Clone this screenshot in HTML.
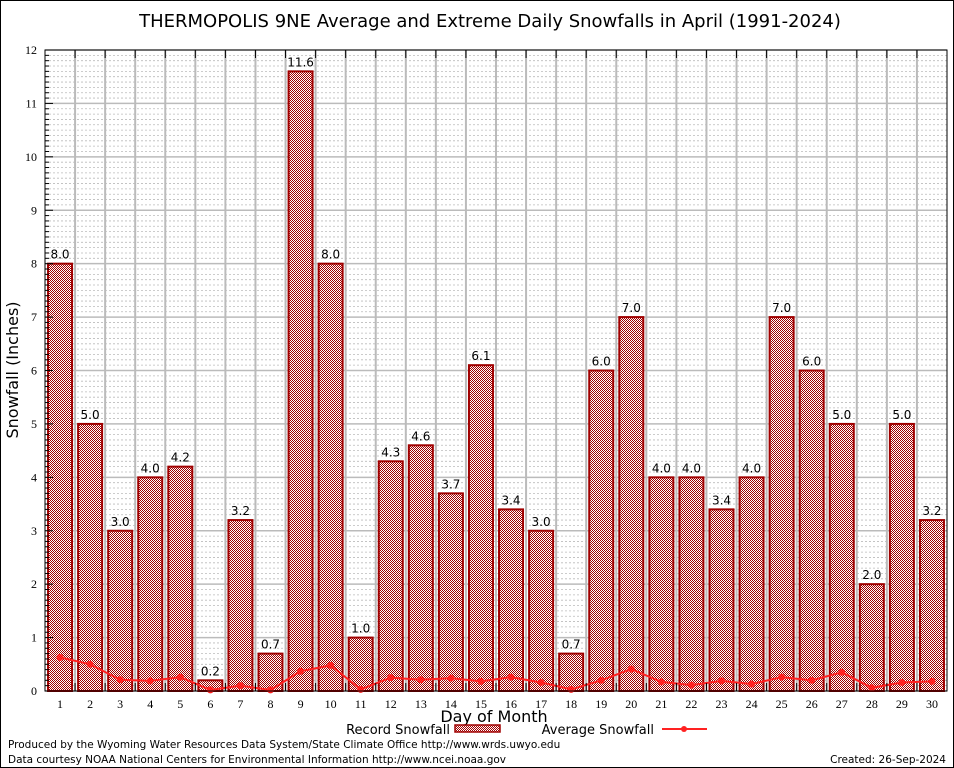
<!DOCTYPE html>
<html><head><meta charset="utf-8"><style>
body{margin:0;background:#fff;}
svg{display:block;font-family:"DejaVu Sans","Liberation Sans",sans-serif;}
.serif{font-family:"Liberation Serif","DejaVu Serif",serif;}
</style></head><body>
<svg id="chart" width="954" height="768" viewBox="0 0 954 768">
<defs>
<pattern id="chk" width="2" height="2" patternUnits="userSpaceOnUse">
<rect width="2" height="2" fill="#fff"/><rect width="1" height="1" fill="#a00000"/><rect x="1" y="1" width="1" height="1" fill="#a00000"/>
</pattern>
</defs>
<rect x="0.5" y="0.5" width="953" height="767" fill="#fff" stroke="#000"/>
<text x="490" y="27" font-size="18" text-anchor="middle">THERMOPOLIS 9NE Average and Extreme Daily Snowfalls in April (1991-2024)</text>
<g id="grid"></g>
<g id="bars"></g>
<g id="avg"></g>
<rect x="45" y="50" width="902" height="641" fill="none" stroke="#000"/>
<g id="axes"></g>
<text transform="translate(18,370) rotate(-90)" font-size="16" text-anchor="middle">Snowfall (Inches)</text>
<text x="494" y="722" font-size="16" text-anchor="middle">Day of Month</text>
<g>
<text x="450" y="734" font-size="13" text-anchor="end">Record Snowfall</text>
<rect x="455" y="725" width="45" height="7" fill="url(#chk)" stroke="#a00000" stroke-width="1.5"/>
</g>
<g>
<text x="654" y="734" font-size="13" text-anchor="end">Average Snowfall</text>
<line x1="662" y1="729" x2="707" y2="729" stroke="#f22" stroke-width="2"/>
<circle cx="684" cy="729" r="3" fill="#f22"/>
</g>
<text x="8" y="748" font-size="10.5">Produced by the Wyoming Water Resources Data System/State Climate Office http://www.wrds.uwyo.edu</text>
<text x="8" y="763" font-size="10.5">Data courtesy NOAA National Centers for Environmental Information http://www.ncei.noaa.gov</text>
<text x="946" y="763" font-size="10.5" text-anchor="end">Created:  26-Sep-2024</text>
</svg>
<script>
const days=[1,2,3,4,5,6,7,8,9,10,11,12,13,14,15,16,17,18,19,20,21,22,23,24,25,26,27,28,29,30];
const records=[8.0,5.0,3.0,4.0,4.2,0.2,3.2,0.7,11.6,8.0,1.0,4.3,4.6,3.7,6.1,3.4,3.0,0.7,6.0,7.0,4.0,4.0,3.4,4.0,7.0,6.0,5.0,2.0,5.0,3.2];
const averages=[0.63,0.5,0.21,0.19,0.26,0.02,0.1,0.02,0.37,0.48,0.03,0.25,0.21,0.24,0.18,0.26,0.16,0.03,0.2,0.41,0.17,0.11,0.19,0.13,0.26,0.2,0.35,0.06,0.16,0.18];
const yTicks=[0,1,2,3,4,5,6,7,8,9,10,11,12];
const NS='http://www.w3.org/2000/svg';
const L=45,R=947,T=50,B=691,yMax=12;
const step=(R-L)/days.length;
const x=d=>L+(d-0.5)*step;
const y=v=>B-v/yMax*(B-T);
function mk(tag,at,parent){const e=document.createElementNS(NS,tag);for(const k in at)e.setAttribute(k,at[k]);parent.appendChild(e);return e;}
const grid=document.getElementById('grid'),bars=document.getElementById('bars'),avg=document.getElementById('avg'),axes=document.getElementById('axes');
for(let v=0;v<yMax;v+=0.1){if(Math.abs(v-Math.round(v))<1e-6)continue;const g=mk('line',{x1:L,x2:R,y1:y(v),y2:y(v),stroke:'#bbb','stroke-width':0.8,'stroke-dasharray':'2,2'},grid);

}
yTicks.forEach(v=>{const g=mk('line',{x1:L,x2:R,y1:y(v),y2:y(v),stroke:'#bbb','stroke-width':1.5},grid);


const t=mk('text',{x:L-8,y:y(v)+4,'font-size':12,'text-anchor':'end',class:'serif'},axes);t.textContent=v;


mk('line',{x1:L,x2:L+8,y1:y(v),y2:y(v),stroke:'#000'},axes);
for(let m=1;m<10&&v<yMax;m++){mk('line',{x1:L,x2:L+4,y1:y(v+m/10),y2:y(v+m/10),stroke:'#000'},axes);}
});
for(let i=1;i<days.length;i++){const xx=L+i*step;const g=mk('line',{x1:xx,x2:xx,y1:T,y2:B,stroke:'#bbb','stroke-width':2},grid);


mk('line',{x1:xx,x2:xx,y1:T,y2:T+8,stroke:'#000'},axes);mk('line',{x1:xx,x2:xx,y1:B,y2:B-8,stroke:'#000'},axes);}
const bw=24;
days.forEach((d,i)=>{const v=records[i];
const r=mk('rect',{x:x(d)-bw/2,y:y(v),width:bw,height:B-y(v),fill:'url(#chk)',stroke:'#a00000','stroke-width':2},bars);


const t=mk('text',{x:x(d),y:y(v)-5,'font-size':12,'text-anchor':'middle'},bars);t.textContent=v.toFixed(1);


const xl=mk('text',{x:x(d),y:B+17,'font-size':12,'text-anchor':'middle',class:'serif'},axes);xl.textContent=d;


});
const p=mk('polyline',{points:days.map((d,i)=>x(d)+','+y(averages[i])).join(' '),fill:'none',stroke:'#f22','stroke-width':2},avg);


days.forEach((d,i)=>{const c=mk('circle',{cx:x(d),cy:y(averages[i]),r:3.5,fill:'#f22'},avg);

});
</script>
</body></html>
